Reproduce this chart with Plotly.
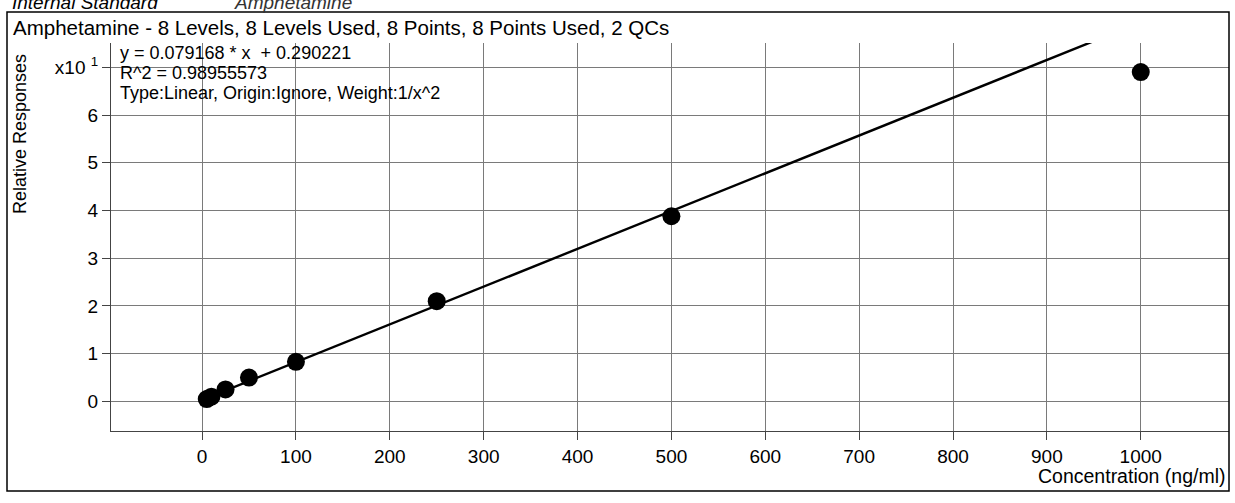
import plotly.graph_objects as go

W, H = 1235, 503

# Data (concentration in ng/ml, relative response in units of x10^1)
conc = [5, 10, 25, 50, 100, 250, 500, 1000]
resp = [0.05, 0.10, 0.25, 0.50, 0.83, 2.10, 3.88, 6.90]
fit_x = [5, 950]
fit_y = [0.07, 7.55]
x_ticks = [0, 100, 200, 300, 400, 500, 600, 700, 800, 900, 1000]
y_ticks = [0, 1, 2, 3, 4, 5, 6, 7]
y_ticktext = ["0", "1", "2", "3", "4", "5", "6", "x10 <sup>1</sup>"]

title_text = "Amphetamine - 8 Levels, 8 Levels Used, 8 Points, 8 Points Used, 2 QCs"
eq_lines = ["y = 0.079168 * x &nbsp;+ 0.290221", "R^2 = 0.98955573",
            "Type:Linear, Origin:Ignore, Weight:1/x^2"]

FONT = "Liberation Sans, Arial, sans-serif"

def px(x):
    return x / W

def py(y):
    return 1 - y / H

fig = go.Figure()
fig.add_trace(go.Scatter(x=fit_x, y=fit_y, mode="lines",
                         line=dict(color="black", width=2.4),
                         hoverinfo="skip", showlegend=False))
fig.add_trace(go.Scatter(x=conc, y=resp, mode="markers",
                         marker=dict(color="black", size=18),
                         showlegend=False))

axis_common = dict(showgrid=True, gridcolor="#7a7a7a", gridwidth=1,
                   zeroline=False, showline=True, linecolor="#444",
                   linewidth=1, ticks="outside", ticklen=8, tickcolor="#444",
                   tickfont=dict(family=FONT, size=19, color="black"))

fig.update_layout(
    width=W, height=H,
    margin=dict(l=0, r=0, t=0, b=0),
    paper_bgcolor="white", plot_bgcolor="white",
    xaxis=dict(domain=[px(111), px(1229)], range=[-97, 1094],
               tickvals=x_ticks, **axis_common),
    yaxis=dict(domain=[py(431), py(43)], range=[-0.62, 7.51],
               tickvals=y_ticks, ticktext=y_ticktext, **axis_common),
)

shapes = [dict(type="rect", xref="paper", yref="paper",
               x0=px(7), x1=px(1229), y0=py(491), y1=py(12),
               line=dict(color="black", width=1.5))]
fig.update_layout(shapes=shapes)

ann = []
ann.append(dict(text=title_text, x=px(11), y=py(27), xref="paper", yref="paper",
                xanchor="left", yanchor="middle", showarrow=False,
                font=dict(family=FONT, size=20.5, color="black")))
for i, t in enumerate(eq_lines):
    ann.append(dict(text=t, x=px(118), y=py(53 + 20 * i), xref="paper", yref="paper",
                    xanchor="left", yanchor="middle", showarrow=False,
                    font=dict(family=FONT, size=18, color="black")))
ann.append(dict(text="Relative Responses", x=px(20), y=py(134), xref="paper",
                yref="paper", textangle=-90, xanchor="center", yanchor="middle",
                showarrow=False, font=dict(family=FONT, size=18, color="black")))
ann.append(dict(text="Concentration (ng/ml)", x=px(1228), y=py(476), xref="paper",
                yref="paper", xanchor="right", yanchor="middle", showarrow=False,
                font=dict(family=FONT, size=19.5, color="black")))
ann.append(dict(text="<i>Internal Standard</i>", x=px(10), y=py(3), xref="paper",
                yref="paper", xanchor="left", yanchor="middle", showarrow=False,
                font=dict(family=FONT, size=19, color="black")))
ann.append(dict(text="<i>Amphetamine</i>", x=px(232), y=py(2), xref="paper",
                yref="paper", xanchor="left", yanchor="middle", showarrow=False,
                font=dict(family=FONT, size=19, color="#333")))
fig.update_layout(annotations=ann)

fig.write_html("out.html", config={"displayModeBar": False},
               post_script="document.body.style.margin='0px';")
